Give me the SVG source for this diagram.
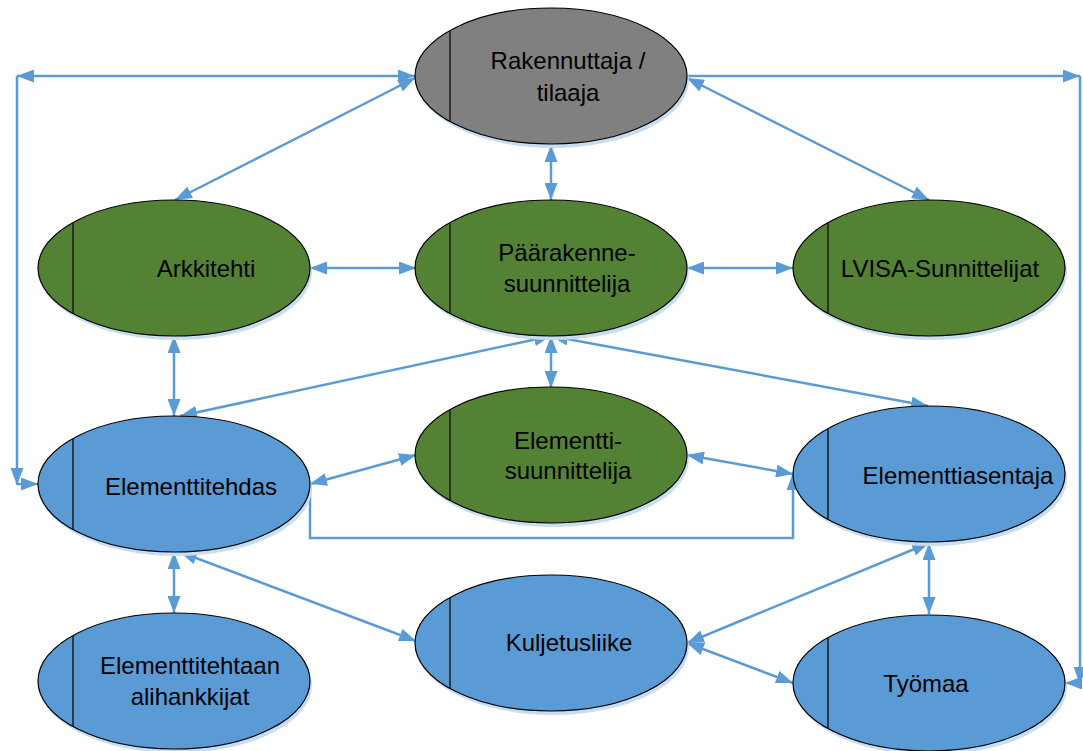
<svg xmlns="http://www.w3.org/2000/svg" width="1083" height="751" viewBox="0 0 1083 751">
  <defs>
    <marker id="arr" viewBox="0 0 17 13" refX="17" refY="6.5" markerWidth="17" markerHeight="13" markerUnits="userSpaceOnUse" orient="auto-start-reverse">
      <path d="M0,0 L17,6.5 L0,13 Z" fill="#5B9BD5"/>
    </marker>
  </defs>
  <style>
    .shadow { fill: #C9DDF0; stroke: none; }
    .node { stroke: #000; stroke-width: 1.2; }
    .gray { fill: #808080; }
    .green { fill: #548235; }
    .blue { fill: #5B9BD5; }
    .div { stroke: #1a1a1a; stroke-width: 1.5; }
    .lbl { font-family: "Liberation Sans", Arial, sans-serif; font-size: 24px; fill: #000; text-anchor: middle; }
    .c { fill: none; stroke: #5B9BD5; stroke-width: 2.5; }
    .both { marker-start: url(#arr); marker-end: url(#arr); }
    .end { marker-end: url(#arr); }
  </style>
  <rect width="1083" height="751" fill="#fff"/>

  <!-- connectors -->
  <g id="connectors">
    <!-- left frame: Rakennuttaja to Elementtitehdas -->
    <line class="c both" x1="17" y1="76" x2="415" y2="76"/>
    <line class="c end" x1="17" y1="76" x2="17" y2="485"/>
    <line class="c end" x1="17" y1="484" x2="38" y2="484"/>
    <!-- right frame: Rakennuttaja to Työmaa -->
    <line class="c end" x1="687" y1="76" x2="1080" y2="76"/>
    <line class="c end" x1="1080" y1="76" x2="1080" y2="684"/>
    <line class="c end" x1="1080" y1="683" x2="1065" y2="683"/>
    <!-- top row -->
    <line class="c both" x1="415" y1="78" x2="175" y2="200"/>
    <line class="c both" x1="687" y1="78" x2="929" y2="200"/>
    <line class="c both" x1="551" y1="145" x2="551" y2="200"/>
    <line class="c both" x1="310" y1="268" x2="416" y2="268"/>
    <line class="c both" x1="687" y1="268" x2="793" y2="268"/>
    <!-- middle row -->
    <line class="c both" x1="174" y1="336" x2="174" y2="416"/>
    <line class="c both" x1="551" y1="336" x2="180" y2="416"/>
    <line class="c both" x1="551" y1="336" x2="551" y2="388"/>
    <line class="c both" x1="551" y1="336" x2="928" y2="406"/>
    <line class="c both" x1="310" y1="484" x2="416" y2="455"/>
    <line class="c both" x1="687" y1="455" x2="793" y2="474"/>
    <polyline class="c end" points="310,484 310,538 793,538 793,473"/>
    <!-- bottom row -->
    <line class="c both" x1="174" y1="552" x2="174" y2="613"/>
    <line class="c both" x1="180" y1="552" x2="416" y2="641"/>
    <line class="c both" x1="929" y1="543" x2="687" y2="643"/>
    <line class="c both" x1="929" y1="543" x2="929" y2="614"/>
    <line class="c both" x1="687" y1="643" x2="793" y2="683"/>
  </g>

  <g id="rakennuttaja">
    <ellipse class="shadow" cx="553" cy="80" rx="136" ry="68"/>
    <ellipse class="node gray" cx="551" cy="76" rx="136" ry="68"/>
    <line class="div" x1="450" y1="31" x2="450" y2="121"/>
    <text class="lbl" x="568" y="69">Rakennuttaja /</text>
    <text class="lbl" x="568" y="101">tilaaja</text>
  </g>

  <g id="arkkitehti">
    <ellipse class="shadow" cx="176" cy="272" rx="136" ry="68"/>
    <ellipse class="node green" cx="174" cy="268" rx="136" ry="68"/>
    <line class="div" x1="73" y1="223" x2="73" y2="313"/>
    <text class="lbl" x="206" y="277">Arkkitehti</text>
  </g>

  <g id="paarakennesuunnittelija">
    <ellipse class="shadow" cx="553" cy="272" rx="136" ry="68"/>
    <ellipse class="node green" cx="551" cy="268" rx="136" ry="68"/>
    <line class="div" x1="450" y1="223" x2="450" y2="313"/>
    <text class="lbl" x="567" y="261">Päärakenne-</text>
    <text class="lbl" x="567" y="292">suunnittelija</text>
  </g>

  <g id="lvisa">
    <ellipse class="shadow" cx="931" cy="272" rx="136" ry="68"/>
    <ellipse class="node green" cx="929" cy="268" rx="136" ry="68"/>
    <line class="div" x1="828" y1="223" x2="828" y2="313"/>
    <text class="lbl" x="940" y="277">LVISA-Sunnittelijat</text>
  </g>

  <g id="elementtitehdas">
    <ellipse class="shadow" cx="176" cy="488" rx="136" ry="68"/>
    <ellipse class="node blue" cx="174" cy="484" rx="136" ry="68"/>
    <line class="div" x1="73" y1="439" x2="73" y2="529"/>
    <text class="lbl" x="191" y="495">Elementtitehdas</text>
  </g>

  <g id="elementtisuunnittelija">
    <ellipse class="shadow" cx="553" cy="459" rx="136" ry="68"/>
    <ellipse class="node green" cx="551" cy="455" rx="136" ry="68"/>
    <line class="div" x1="450" y1="410" x2="450" y2="500"/>
    <text class="lbl" x="568" y="449">Elementti-</text>
    <text class="lbl" x="568" y="479">suunnittelija</text>
  </g>

  <g id="elementtiasentaja">
    <ellipse class="shadow" cx="931" cy="478" rx="136" ry="68"/>
    <ellipse class="node blue" cx="929" cy="474" rx="136" ry="68"/>
    <line class="div" x1="828" y1="429" x2="828" y2="519"/>
    <text class="lbl" x="958" y="484">Elementtiasentaja</text>
  </g>

  <g id="alihankkijat">
    <ellipse class="shadow" cx="176" cy="685" rx="136" ry="68"/>
    <ellipse class="node blue" cx="174" cy="681" rx="136" ry="68"/>
    <line class="div" x1="73" y1="636" x2="73" y2="726"/>
    <text class="lbl" x="190" y="674">Elementtitehtaan</text>
    <text class="lbl" x="190" y="705">alihankkijat</text>
  </g>

  <g id="kuljetusliike">
    <ellipse class="shadow" cx="553" cy="647" rx="136" ry="68"/>
    <ellipse class="node blue" cx="551" cy="643" rx="136" ry="68"/>
    <line class="div" x1="450" y1="598" x2="450" y2="688"/>
    <text class="lbl" x="569" y="651">Kuljetusliike</text>
  </g>

  <g id="tyomaa">
    <ellipse class="shadow" cx="931" cy="687" rx="136" ry="68"/>
    <ellipse class="node blue" cx="929" cy="683" rx="136" ry="68"/>
    <line class="div" x1="828" y1="638" x2="828" y2="728"/>
    <text class="lbl" x="926" y="692">Työmaa</text>
  </g>
</svg>
